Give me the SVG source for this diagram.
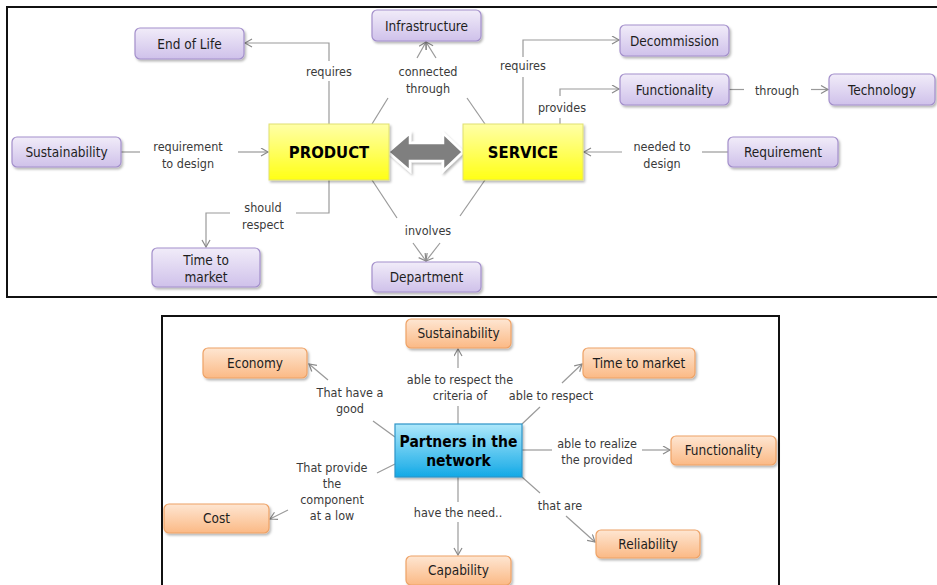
<svg xmlns="http://www.w3.org/2000/svg" width="937" height="585" viewBox="0 0 937 585">
  <defs>
    <style>
      .frame { fill: #fff; stroke: #111; stroke-width: 2; }
      .p { fill: url(#gPurple); stroke: #a38fcb; stroke-width: 1.2; filter: url(#shadow); }
      .o { fill: url(#gOrange); stroke: #eea266; stroke-width: 1.2; filter: url(#shadow); }
      .y { fill: url(#gYellow); stroke: #e0e070; stroke-width: 1; filter: url(#shadow); }
      .b { fill: url(#gBlue); stroke: #2f95c8; stroke-width: 1.2; filter: url(#shadow); }
      .nt { font-family: "DejaVu Sans Condensed", "Liberation Sans", sans-serif; font-size: 13.5px; fill: #1e1e1e; text-anchor: middle; }
      .bt { font-family: "DejaVu Sans Condensed", "Liberation Sans", sans-serif; font-weight: bold; fill: #000; text-anchor: middle; }
      .lt { font-family: "DejaVu Sans Condensed", "Liberation Sans", sans-serif; font-size: 12.5px; fill: #3a3a3a; text-anchor: middle; }
      .c { fill: none; stroke: #9a9a9a; stroke-width: 1.2; }
      .ca { fill: none; stroke: #9a9a9a; stroke-width: 1.2; marker-end: url(#arrow); }
    </style>
    <linearGradient id="gPurple" x1="0" y1="0" x2="0" y2="1">
      <stop offset="0" stop-color="#f1ecf9"/>
      <stop offset="1" stop-color="#cfc1ea"/>
    </linearGradient>
    <linearGradient id="gOrange" x1="0" y1="0" x2="0" y2="1">
      <stop offset="0" stop-color="#fee6d2"/>
      <stop offset="1" stop-color="#fbb985"/>
    </linearGradient>
    <linearGradient id="gYellow" x1="0" y1="0" x2="0" y2="1">
      <stop offset="0" stop-color="#ffffa8"/>
      <stop offset="1" stop-color="#ffff14"/>
    </linearGradient>
    <linearGradient id="gBlue" x1="0" y1="0" x2="0" y2="1">
      <stop offset="0" stop-color="#aee8fb"/>
      <stop offset="1" stop-color="#12a9e6"/>
    </linearGradient>
    <filter id="shadow" x="-10%" y="-10%" width="125%" height="140%">
      <feDropShadow dx="1.5" dy="2" stdDeviation="1.2" flood-color="#000" flood-opacity="0.28"/>
    </filter>
    <marker id="arrow" markerUnits="userSpaceOnUse" markerWidth="10" markerHeight="10" refX="8" refY="4.5" orient="auto">
      <path d="M1,0.5 L8,4.5 L1,8.5" fill="none" stroke="#8a8a8a" stroke-width="1.2"/>
    </marker>
  </defs>

  <!-- panel frames -->
  <rect class="frame" x="7" y="7" width="935" height="290"/>
  <rect class="frame" x="162" y="316" width="617" height="280"/>

  <!-- ===== upper map: product / service ===== -->
  <g id="connectors-top">
    <!-- PRODUCT requires End of Life -->
    <path class="c" d="M329,124 V81"/>
    <path class="ca" d="M329,61 V43 H245"/>
    <!-- PRODUCT / SERVICE connected through Infrastructure -->
    <path class="c" d="M372,124 L388,98"/>
    <path class="c" d="M485,124 L467,98"/>
    <path class="ca" d="M417,58 L426,42"/>
    <path class="ca" d="M436,58 L426,42"/>
    <!-- PRODUCT / SERVICE involves Department -->
    <path class="c" d="M372,180 L397,218"/>
    <path class="c" d="M485,180 L460,216"/>
    <path class="ca" d="M413,243 L426,261"/>
    <path class="ca" d="M440,243 L426,261"/>
    <!-- Sustainability requirement to design PRODUCT -->
    <path class="c" d="M121,152 H140"/>
    <path class="ca" d="M238,152 H268"/>
    <!-- PRODUCT should respect Time to market -->
    <path class="c" d="M329,180 V213 H296"/>
    <path class="ca" d="M230,213 H206 V247"/>
    <!-- SERVICE requires Decommission -->
    <path class="c" d="M523,124 V77"/>
    <path class="ca" d="M523,57 V40 H619"/>
    <!-- SERVICE provides Functionality -->
    <path class="c" d="M560,124 V118"/>
    <path class="ca" d="M560,96 V89 H619"/>
    <!-- Functionality through Technology -->
    <path class="c" d="M729,89.5 H744"/>
    <path class="ca" d="M811,89.5 H828"/>
    <!-- Requirement needed to design SERVICE -->
    <path class="c" d="M728,152 H702"/>
    <path class="ca" d="M622,152 H584"/>

    <!-- link labels -->
    <text class="lt" x="329" y="75.5">requires</text>
    <text class="lt" x="428" y="75.5">connected</text>
    <text class="lt" x="428" y="92.5">through</text>
    <text class="lt" x="428" y="234.5">involves</text>
    <text class="lt" x="188" y="151">requirement</text>
    <text class="lt" x="188" y="168">to design</text>
    <text class="lt" x="263" y="211.5">should</text>
    <text class="lt" x="263" y="229">respect</text>
    <text class="lt" x="523" y="70">requires</text>
    <text class="lt" x="562" y="111.5">provides</text>
    <text class="lt" x="777" y="94.5">through</text>
    <text class="lt" x="662" y="151">needed to</text>
    <text class="lt" x="662" y="168">design</text>

    <!-- double arrow between PRODUCT and SERVICE -->
    <polygon points="388,152 410,133 410,143 443,143 443,133 463,152 443,171 443,161 410,161 410,171" fill="#7f7f7f" stroke="#fff" stroke-width="2.5" stroke-linejoin="miter" filter="url(#shadow)"/>
  </g>

  <g id="product">
    <rect class="y" x="269" y="124" width="120" height="56"/>
    <text class="bt" x="329" y="158" font-size="16.5">PRODUCT</text>
  </g>
  <g id="service">
    <rect class="y" x="463" y="124" width="120" height="56"/>
    <text class="bt" x="523" y="158" font-size="16.5">SERVICE</text>
  </g>
  <g id="end-of-life">
    <rect class="p" x="135" y="28" width="109" height="31" rx="5"/>
    <text class="nt" x="189.5" y="48.5">End of Life</text>
  </g>
  <g id="infrastructure">
    <rect class="p" x="372" y="10" width="109" height="31" rx="5"/>
    <text class="nt" x="426.5" y="30.5">Infrastructure</text>
  </g>
  <g id="sustainability">
    <rect class="p" x="12" y="137" width="109" height="30" rx="5"/>
    <text class="nt" x="66.5" y="157">Sustainability</text>
  </g>
  <g id="time-to-market">
    <rect class="p" x="152" y="248" width="108" height="39" rx="5"/>
    <text class="nt" x="206" y="264.5">Time to</text>
    <text class="nt" x="206" y="281.5">market</text>
  </g>
  <g id="department">
    <rect class="p" x="372" y="262" width="109" height="30" rx="5"/>
    <text class="nt" x="426.5" y="282">Department</text>
  </g>
  <g id="decommission">
    <rect class="p" x="620" y="25" width="109" height="31" rx="5"/>
    <text class="nt" x="674.5" y="45.5">Decommission</text>
  </g>
  <g id="functionality">
    <rect class="p" x="620" y="74" width="109" height="31" rx="5"/>
    <text class="nt" x="674.5" y="94.5">Functionality</text>
  </g>
  <g id="technology">
    <rect class="p" x="829" y="74" width="106" height="31" rx="5"/>
    <text class="nt" x="882" y="94.5">Technology</text>
  </g>
  <g id="requirement">
    <rect class="p" x="728" y="137" width="110" height="30" rx="5"/>
    <text class="nt" x="783" y="157">Requirement</text>
  </g>

  <!-- ===== lower map: partners in the network ===== -->
  <g id="connectors-bottom">
    <path class="c" d="M458,424 V406"/>
    <path class="ca" d="M458,368 V349"/>
    <path class="c" d="M395,437 L373,421"/>
    <path class="ca" d="M328,380 L309,364"/>
    <path class="c" d="M395,464 L377,473"/>
    <path class="ca" d="M288,510 L270,519"/>
    <path class="c" d="M458,477 V502"/>
    <path class="ca" d="M458,522 V555"/>
    <path class="c" d="M522,424 L540,407"/>
    <path class="ca" d="M562,383 L582,364"/>
    <path class="c" d="M522,450 H552"/>
    <path class="ca" d="M642,450 H670"/>
    <path class="c" d="M522,477 L540,493"/>
    <path class="ca" d="M566,516 L595,542"/>

    <text class="lt" x="460" y="384">able to respect the</text>
    <text class="lt" x="460" y="399.5">criteria of</text>
    <text class="lt" x="350" y="397">That have a</text>
    <text class="lt" x="350" y="413">good</text>
    <text class="lt" x="332" y="472">That provide</text>
    <text class="lt" x="332" y="488">the</text>
    <text class="lt" x="332" y="504">component</text>
    <text class="lt" x="332" y="520">at a low</text>
    <text class="lt" x="458" y="516.5">have the need..</text>
    <text class="lt" x="551" y="399.5">able to respect</text>
    <text class="lt" x="597" y="447.5">able to realize</text>
    <text class="lt" x="597" y="463.5">the provided</text>
    <text class="lt" x="560" y="509.5">that are</text>
  </g>

  <g id="partners">
    <rect class="b" x="395" y="424" width="127" height="53"/>
    <text class="bt" x="458.5" y="447" font-size="15.5">Partners in the</text>
    <text class="bt" x="458.5" y="465.5" font-size="15.5">network</text>
  </g>
  <g id="sustainability-2">
    <rect class="o" x="406" y="319" width="105" height="29" rx="5"/>
    <text class="nt" x="458.5" y="338">Sustainability</text>
  </g>
  <g id="economy">
    <rect class="o" x="203" y="348" width="104" height="30" rx="5"/>
    <text class="nt" x="255" y="367.5">Economy</text>
  </g>
  <g id="time-to-market-2">
    <rect class="o" x="583" y="348" width="112" height="30" rx="5"/>
    <text class="nt" x="639" y="367.5">Time to market</text>
  </g>
  <g id="functionality-2">
    <rect class="o" x="671" y="436" width="105" height="29" rx="5"/>
    <text class="nt" x="723.5" y="455">Functionality</text>
  </g>
  <g id="reliability">
    <rect class="o" x="596" y="530" width="104" height="28" rx="5"/>
    <text class="nt" x="648" y="548.5">Reliability</text>
  </g>
  <g id="capability">
    <rect class="o" x="406" y="556" width="105" height="29" rx="5"/>
    <text class="nt" x="458.5" y="575">Capability</text>
  </g>
  <g id="cost">
    <rect class="o" x="164" y="504" width="105" height="29" rx="5"/>
    <text class="nt" x="216.5" y="523">Cost</text>
  </g>
</svg>
